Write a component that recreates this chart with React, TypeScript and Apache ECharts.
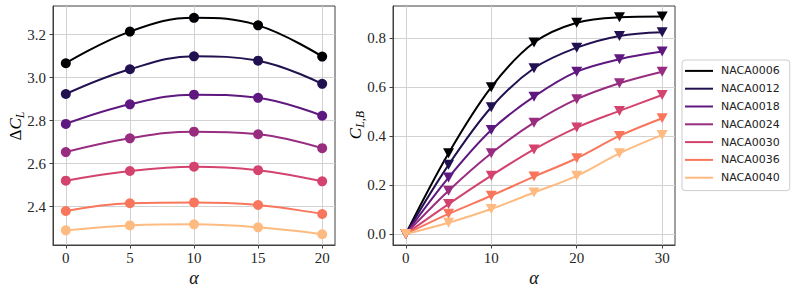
import React, { useEffect, useRef } from "react";
import * as echarts from "echarts";

const names = ["NACA0006", "NACA0012", "NACA0018", "NACA0024", "NACA0030", "NACA0036", "NACA0040"];
const colors = ["#000004", "#221150", "#5f187f", "#982d80", "#d3436e", "#f8765c", "#febb81"];

const alphaLeft = [0, 5, 10, 15, 20];
const dCL0006 = [3.067, 3.214, 3.278, 3.243, 3.098];
const dCL0012 = [2.924, 3.039, 3.099, 3.079, 2.971];
const dCL0018 = [2.785, 2.876, 2.921, 2.906, 2.823];
const dCL0024 = [2.654, 2.718, 2.749, 2.737, 2.672];
const dCL0030 = [2.521, 2.566, 2.586, 2.570, 2.518];
const dCL0036 = [2.380, 2.416, 2.420, 2.408, 2.366];
const dCL0040 = [2.290, 2.313, 2.318, 2.304, 2.272];

const alphaRight = [0, 5, 10, 15, 20, 25, 30];
const CLB0006 = [0, 0.329, 0.599, 0.781, 0.862, 0.884, 0.887];
const CLB0012 = [0, 0.282, 0.517, 0.676, 0.760, 0.808, 0.823];
const CLB0018 = [0, 0.230, 0.424, 0.560, 0.662, 0.713, 0.744];
const CLB0024 = [0, 0.176, 0.329, 0.454, 0.550, 0.615, 0.662];
const CLB0030 = [0, 0.122, 0.238, 0.345, 0.434, 0.502, 0.567];
const CLB0036 = [0, 0.082, 0.156, 0.234, 0.309, 0.400, 0.472];
const CLB0040 = [0, 0.046, 0.102, 0.169, 0.237, 0.329, 0.404];

const leftTicksX = [0, 5, 10, 15, 20];
const leftTicksY = [2.4, 2.6, 2.8, 3.0, 3.2];
const rightTicksX = [0, 10, 20, 30];
const rightTicksY = [0, 0.2, 0.4, 0.6, 0.8];

const dCL = [dCL0006, dCL0012, dCL0018, dCL0024, dCL0030, dCL0036, dCL0040];
const CLB = [CLB0006, CLB0012, CLB0018, CLB0024, CLB0030, CLB0036, CLB0040];

const serif = "'Liberation Serif', 'DejaVu Serif', serif";
const frame = "#404040";
const gridCol = "#d2d2d2";

function axisBase(custom: number[], fmt: (v: number) => string, isX: boolean) {
  return {
    type: "value",
    axisLine: { show: true, onZero: false, lineStyle: { color: frame, width: 1 } },
    axisTick: { show: true, length: 3.5, customValues: custom, lineStyle: { color: frame, width: 1 } },
    axisLabel: {
      customValues: custom,
      formatter: fmt,
      fontFamily: serif,
      fontSize: 15,
      color: "#262626",
      margin: isX ? 5 : 7,
    },
    splitLine: { show: true, lineStyle: { color: gridCol, width: 1 } },
  };
}

export default function App() {
  const ref = useRef<HTMLDivElement>(null);
  useEffect(() => {
    if (!ref.current) return;
    const chart = echarts.init(ref.current, undefined, { renderer: "svg" });
    const series: any[] = [];
    names.forEach((n, i) => {
      series.push({
        name: n,
        type: "line",
        xAxisIndex: 0,
        yAxisIndex: 0,
        data: alphaLeft.map((a, k) => [a, dCL[i][k]]),
        smooth: 0.4,
        symbol: "circle",
        symbolSize: 10,
        showAllSymbol: true,
        lineStyle: { color: colors[i], width: 2 },
        itemStyle: { color: colors[i] },
        z: 2 + i,
      });
      series.push({
        name: n,
        type: "line",
        xAxisIndex: 1,
        yAxisIndex: 1,
        data: alphaRight.map((a, k) => [a, CLB[i][k]]),
        smooth: 0.35,
        symbol: "triangle",
        symbolRotate: 180,
        symbolSize: [11, 10],
        showAllSymbol: true,
        lineStyle: { color: colors[i], width: 2 },
        itemStyle: { color: colors[i] },
        z: 2 + i,
      });
    });
    const subRich = {
      n: { fontFamily: serif, fontSize: 17, color: "#111", lineHeight: 22, verticalAlign: "middle" },
      i: { fontFamily: serif, fontSize: 17, fontStyle: "italic", color: "#111", lineHeight: 22, verticalAlign: "middle" },
      s: { fontFamily: serif, fontSize: 12, fontStyle: "italic", color: "#111", lineHeight: 12, verticalAlign: "bottom" },
    };
    chart.setOption({
      animation: false,
      backgroundColor: "#ffffff",
      grid: [
        { left: 53, top: 6, width: 282, height: 239, show: true, borderColor: frame, borderWidth: 1, backgroundColor: "transparent" },
        { left: 393, top: 6, width: 282, height: 239, show: true, borderColor: frame, borderWidth: 1, backgroundColor: "transparent" },
      ],
      xAxis: [
        { ...axisBase(leftTicksX, (v: number) => String(v), true), gridIndex: 0, min: -1, max: 21 },
        { ...axisBase(rightTicksX, (v: number) => String(v), true), gridIndex: 1, min: -1.5, max: 31.5 },
      ],
      yAxis: [
        { ...axisBase(leftTicksY, (v: number) => v.toFixed(1), false), gridIndex: 0, min: 2.222, max: 3.333 },
        { ...axisBase(rightTicksY, (v: number) => v.toFixed(1), false), gridIndex: 1, min: -0.045, max: 0.93 },
      ],
      legend: {
        data: names,
        orient: "vertical",
        left: 682,
        top: 60,
        icon: "rect",
        itemWidth: 28,
        itemHeight: 2,
        itemGap: 0,
        padding: [2, 10, 4, 3],
        borderColor: "#cccccc",
        borderWidth: 1,
        borderRadius: 3,
        textStyle: { fontFamily: "DejaVu Sans", fontSize: 11, color: "#222", lineHeight: 17.8, padding: [0, 0, 0, 3] },
      },
      graphic: [
        {
          type: "text",
          x: 15,
          y: 126,
          rotation: Math.PI / 2,
          style: { text: "{n|Δ}{i|C}{s|L}", rich: subRich, align: "center", verticalAlign: "middle" },
        },
        {
          type: "text",
          x: 355,
          y: 125,
          rotation: Math.PI / 2,
          style: { text: "{i|C}{s|L,B}", rich: subRich, align: "center", verticalAlign: "middle" },
        },
        {
          type: "text",
          x: 194,
          y: 278,
          style: { text: "α", fontFamily: serif, fontSize: 18, fontStyle: "italic", fill: "#111", align: "center", verticalAlign: "middle" },
        },
        {
          type: "text",
          x: 534,
          y: 278,
          style: { text: "α", fontFamily: serif, fontSize: 18, fontStyle: "italic", fill: "#111", align: "center", verticalAlign: "middle" },
        },
      ],
      series,
    });
    return () => chart.dispose();
  }, []);
  return <div ref={ref} style={{ position: "fixed", left: 0, top: 0, width: 793, height: 293 }} />;
}
